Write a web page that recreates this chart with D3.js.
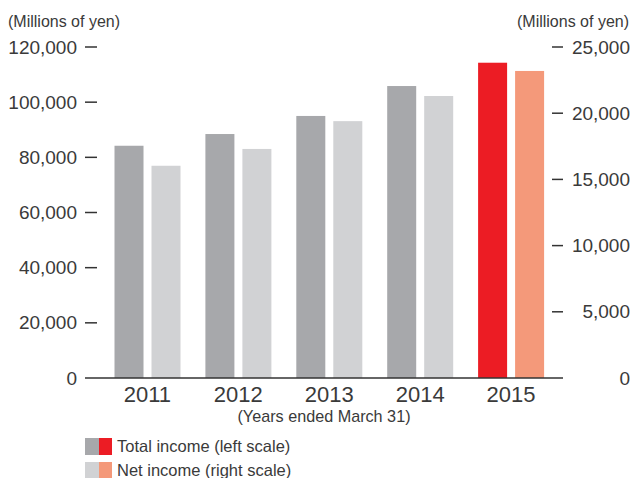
<!DOCTYPE html>
<html>
<head>
<meta charset="utf-8">
<script src="https://cdn.jsdelivr.net/npm/d3@7"></script>
<style>
  body { margin: 0; background: #fff; }
  text { font-family: "Liberation Sans", Arial, sans-serif; fill: #3a3a3a; }
</style>
</head>
<body>
<div id="chart"></div>
<script>
// data
var years = ["2011", "2012", "2013", "2014", "2015"];
var totalIncome = [84200, 88450, 95000, 105850, 114300]; // left scale
var netIncome = [16030, 17300, 19400, 21300, 23190];     // right scale
var leftTicks = [0, 20000, 40000, 60000, 80000, 100000, 120000];
var rightTicks = [0, 5000, 10000, 15000, 20000, 25000];
var series = ["total", "net"];
var legendLabels = ["Total income (left scale)", "Net income (right scale)"];

var w = 632, h = 478;
var colors = {
  total: ["#a7a8ab", "#ec1c24"],
  net: ["#d1d2d4", "#f4997a"]
};

var svg = d3.select("#chart")
  .append("svg")
  .attr("width", w)
  .attr("height", h);

var yLeft = d3.scaleLinear().domain([0, 120000]).range([378, 47]);
var yRight = d3.scaleLinear().domain([0, 25000]).range([378, 47]);

var x0 = d3.scaleBand().domain(years).range([102, 556.5]);
var x1 = d3.scaleBand().domain(series).range([12.5, 78.5]).paddingInner(0.216);

var fmt = d3.format(",");

// bars
var groups = svg.selectAll("g.year")
  .data(years)
  .enter()
  .append("g")
  .attr("class", "year")
  .attr("transform", function(d) { return "translate(" + x0(d) + ",0)"; });

groups.each(function(yr, i) {
  var g = d3.select(this);
  var last = i === years.length - 1 ? 1 : 0;
  g.append("rect")
    .attr("x", x1("total"))
    .attr("width", x1.bandwidth())
    .attr("y", yLeft(totalIncome[i]))
    .attr("height", yLeft(0) - yLeft(totalIncome[i]))
    .attr("fill", colors.total[last]);
  g.append("rect")
    .attr("x", x1("net"))
    .attr("width", x1.bandwidth())
    .attr("y", yRight(netIncome[i]))
    .attr("height", yRight(0) - yRight(netIncome[i]))
    .attr("fill", colors.net[last]);
});

// baseline
svg.append("line")
  .attr("x1", 85).attr("x2", 563)
  .attr("y1", yLeft(0)).attr("y2", yLeft(0))
  .attr("stroke", "#333").attr("stroke-width", 1.5);

// left axis
var left = svg.append("g");
left.selectAll("line")
  .data(leftTicks.filter(function(d) { return d > 0; }))
  .enter().append("line")
  .attr("x1", 85).attr("x2", 97)
  .attr("y1", function(d) { return yLeft(d); })
  .attr("y2", function(d) { return yLeft(d); })
  .attr("stroke", "#333").attr("stroke-width", 1.5);
left.selectAll("text")
  .data(leftTicks)
  .enter().append("text")
  .attr("x", 77)
  .attr("y", function(d) { return yLeft(d); })
  .attr("dy", "0.35em")
  .attr("text-anchor", "end")
  .style("font-size", "19px")
  .text(function(d) { return fmt(d); });

// right axis
var right = svg.append("g");
right.selectAll("line")
  .data(rightTicks.filter(function(d) { return d > 0; }))
  .enter().append("line")
  .attr("x1", 552).attr("x2", 563)
  .attr("y1", function(d) { return yRight(d); })
  .attr("y2", function(d) { return yRight(d); })
  .attr("stroke", "#333").attr("stroke-width", 1.5);
right.selectAll("text")
  .data(rightTicks)
  .enter().append("text")
  .attr("x", 630)
  .attr("y", function(d) { return yRight(d); })
  .attr("dy", "0.35em")
  .attr("text-anchor", "end")
  .style("font-size", "19px")
  .text(function(d) { return fmt(d); });

// unit labels
svg.append("text")
  .attr("x", 8).attr("y", 27)
  .style("font-size", "16px")
  .text("(Millions of yen)");
svg.append("text")
  .attr("x", 629).attr("y", 27)
  .attr("text-anchor", "end")
  .style("font-size", "16px")
  .text("(Millions of yen)");

// year labels
svg.selectAll("text.yr")
  .data(years)
  .enter().append("text")
  .attr("class", "yr")
  .attr("x", function(d) { return x0(d) + x0.bandwidth() / 2; })
  .attr("y", 402)
  .attr("text-anchor", "middle")
  .style("font-size", "22px")
  .text(function(d) { return d; });

svg.append("text")
  .attr("x", 324).attr("y", 422)
  .attr("text-anchor", "middle")
  .style("font-size", "16.2px")
  .text("(Years ended March 31)");

// legend
var legend = svg.selectAll("g.legend")
  .data(series)
  .enter().append("g")
  .attr("class", "legend")
  .attr("transform", function(d, i) { return "translate(85," + (438 + i * 24) + ")"; });
legend.append("rect")
  .attr("width", 14).attr("height", 17)
  .attr("fill", function(d) { return colors[d][0]; });
legend.append("rect")
  .attr("x", 14)
  .attr("width", 13).attr("height", 17)
  .attr("fill", function(d) { return colors[d][1]; });
legend.append("text")
  .attr("x", 32).attr("y", 14)
  .style("font-size", "16.5px")
  .text(function(d, i) { return legendLabels[i]; });
</script>
</body>
</html>
